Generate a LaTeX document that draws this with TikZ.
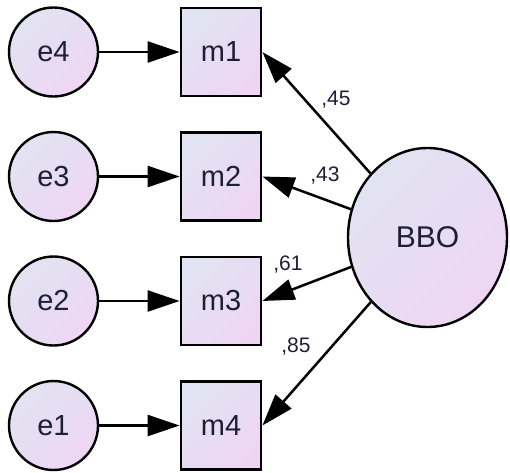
\documentclass[tikz,border=0pt]{standalone}
\usepackage{fontspec}
\setmainfont{Liberation Sans}
\usetikzlibrary{arrows.meta,shapes.geometric}
\definecolor{fillA}{HTML}{E1E3F2}
\definecolor{fillB}{HTML}{EED6F3}
\definecolor{txt}{HTML}{1E1E38}
\tikzset{
  grad/.style={top color=fillA,bottom color=fillB,shading angle=45},
  errnode/.style={circle,draw=black,line width=2.4pt,grad,minimum size=89pt,inner sep=0pt,
    font=\fontsize{29}{29}\selectfont,text=txt},
  obsnode/.style={rectangle,draw=black,line width=2.8pt,grad,minimum width=80pt,minimum height=88pt,inner sep=0pt,
    font=\fontsize{29}{29}\selectfont,text=txt},
  latnode/.style={ellipse,draw=black,line width=2.4pt,grad,minimum width=159pt,minimum height=179pt,inner sep=0pt,
    font=\fontsize{30}{30}\selectfont,text=txt},
  conn/.style={line width=2.5pt,-{Triangle[length=32pt,width=21pt]}},
  wlabel/.style={font=\fontsize{21}{21}\selectfont,text=txt,inner sep=0pt}
}
\begin{document}
\begin{tikzpicture}[x=1pt,y=-1pt]
\useasboundingbox (0,0) rectangle (510,472);
\node[errnode] (e4) at (53.5,52) {e4};
\node[errnode] (e3) at (53.5,176.5) {e3};
\node[errnode] (e2) at (53.5,301) {e2};
\node[errnode] (e1) at (53.5,425.5) {e1};
\node[obsnode] (m1) at (221,52) {m1};
\node[obsnode] (m2) at (221,176.5) {m2};
\node[obsnode] (m3) at (221,301) {m3};
\node[obsnode] (m4) at (221,425.5) {m4};
\node[latnode] (bbo) at (427.5,237.5) {BBO};
\draw[conn] (e4) -- (m1);
\draw[conn] (e3) -- (m2);
\draw[conn] (e2) -- (m3);
\draw[conn] (e1) -- (m4);
\draw[conn] (bbo) -- (m1.east);
\draw[conn] (bbo) -- (m2.east);
\draw[conn] (bbo) -- (m3.east);
\draw[conn] (bbo) -- (m4.east);
\node[wlabel] (l1) at (336,100) {,45};
\node[wlabel] (l2) at (325,176) {,43};
\node[wlabel] (l3) at (288,265) {,61};
\node[wlabel] (l4) at (296,347) {,85};
\end{tikzpicture}
\end{document}
